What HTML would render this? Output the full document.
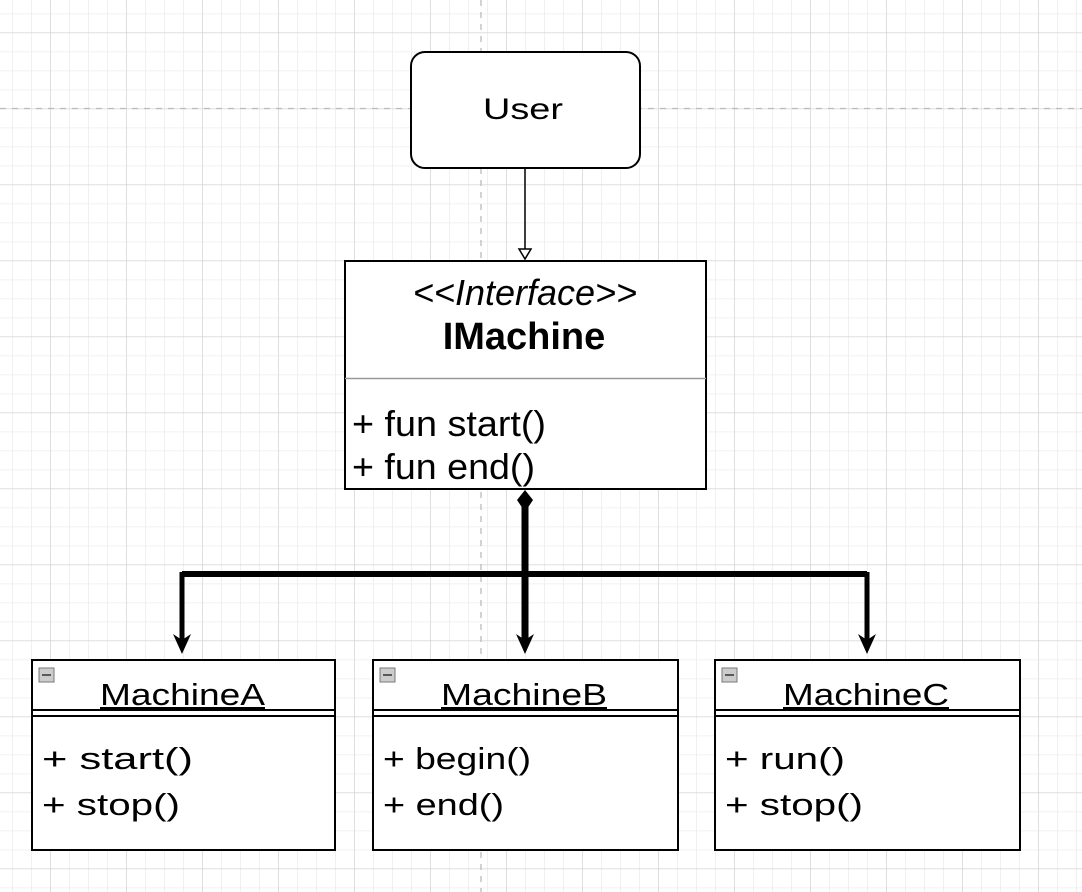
<!DOCTYPE html>
<html><head><meta charset="utf-8"><style>
html,body{margin:0;padding:0;background:#fff;}
svg{display:block;}
</style></head><body>
<svg width="1082" height="892" viewBox="0 0 1082 892" xmlns="http://www.w3.org/2000/svg">
<defs>
<pattern id="minor" x="12" y="13.5" width="19" height="19" patternUnits="userSpaceOnUse">
<path d="M0 0V19M0 0H19" stroke="#ececec" stroke-width="1.5" fill="none"/>
</pattern>
<pattern id="major" x="50" y="32.5" width="76" height="76" patternUnits="userSpaceOnUse">
<path d="M0 0V76M0 0H76" stroke="#cfcfcf" stroke-width="1.2" fill="none"/>
</pattern>
</defs>
<rect width="1082" height="892" fill="url(#minor)"/>
<rect width="1082" height="892" fill="url(#major)"/>
<line x1="0" y1="108.5" x2="1082" y2="108.5" stroke="#bbb" stroke-width="1.3" stroke-dasharray="6,6"/>
<line x1="481" y1="0" x2="481" y2="892" stroke="#bbb" stroke-width="1.3" stroke-dasharray="6,6"/>

<!-- User -->
<rect x="411" y="52" width="229" height="116" rx="14" fill="#fff" stroke="#000" stroke-width="2"/>
<text x="483" y="119" font-family="Liberation Sans, sans-serif" font-size="30" textLength="80" lengthAdjust="spacingAndGlyphs">User</text>
<line x1="525" y1="168" x2="525" y2="252" stroke="#000" stroke-width="1.5"/>
<path d="M519 249 L525 259 L531 249 Z" fill="#fff" stroke="#000" stroke-width="1.5"/>

<!-- IMachine -->
<rect x="345" y="261" width="361" height="228" fill="#fff" stroke="#000" stroke-width="2"/>
<text x="525" y="305" font-family="Liberation Sans, sans-serif" font-size="36" font-style="italic" text-anchor="middle">&lt;&lt;Interface&gt;&gt;</text>
<text x="524" y="349" font-family="Liberation Sans, sans-serif" font-size="38" font-weight="bold" text-anchor="middle">IMachine</text>
<line x1="345" y1="378.5" x2="706" y2="378.5" stroke="#999" stroke-width="1.5"/>
<text x="352" y="436" font-family="Liberation Sans, sans-serif" font-size="36" textLength="194" lengthAdjust="spacingAndGlyphs">+ fun start()</text>
<text x="352" y="479" font-family="Liberation Sans, sans-serif" font-size="36" textLength="183" lengthAdjust="spacingAndGlyphs">+ fun end()</text>

<!-- connectors -->
<path d="M525 490 L533 500 L525 512 L517 500 Z" fill="#000"/>
<line x1="525" y1="505" x2="525" y2="640" stroke="#000" stroke-width="7"/>
<line x1="182" y1="574" x2="867" y2="574" stroke="#000" stroke-width="6"/>
<line x1="182" y1="572" x2="182" y2="640" stroke="#000" stroke-width="5"/>
<line x1="867" y1="572" x2="867" y2="640" stroke="#000" stroke-width="5"/>
<path d="M173 634 L182 654 L191 634 L182 640 Z" fill="#000"/>
<path d="M516 634 L525 654 L534 634 L525 640 Z" fill="#000"/>
<path d="M858 634 L867 654 L876 634 L867 640 Z" fill="#000"/>

<!-- Machine boxes -->
<g font-family="Liberation Sans, sans-serif" font-size="31">
<rect x="32" y="660" width="303" height="190" fill="#fff" stroke="#000" stroke-width="2"/>
<line x1="32" y1="710" x2="335" y2="710" stroke="#000" stroke-width="2"/>
<line x1="32" y1="716" x2="335" y2="716" stroke="#000" stroke-width="2"/>
<rect x="39" y="668" width="15" height="14" fill="#ccc" stroke="#777"/>
<line x1="42" y1="675" x2="51" y2="675" stroke="#333" stroke-width="1.5"/>
<text x="100" y="705" textLength="165" lengthAdjust="spacingAndGlyphs" text-decoration="underline">MachineA</text>
<text x="42" y="769" textLength="151" lengthAdjust="spacingAndGlyphs">+ start()</text>
<text x="42" y="815" textLength="138" lengthAdjust="spacingAndGlyphs">+ stop()</text>

<rect x="373" y="660" width="305" height="190" fill="#fff" stroke="#000" stroke-width="2"/>
<line x1="373" y1="710" x2="678" y2="710" stroke="#000" stroke-width="2"/>
<line x1="373" y1="716" x2="678" y2="716" stroke="#000" stroke-width="2"/>
<rect x="380" y="668" width="15" height="14" fill="#ccc" stroke="#777"/>
<line x1="383" y1="675" x2="392" y2="675" stroke="#333" stroke-width="1.5"/>
<text x="441" y="705" textLength="166" lengthAdjust="spacingAndGlyphs" text-decoration="underline">MachineB</text>
<text x="383" y="769" textLength="148" lengthAdjust="spacingAndGlyphs">+ begin()</text>
<text x="383" y="815" textLength="121" lengthAdjust="spacingAndGlyphs">+ end()</text>

<rect x="715" y="660" width="305" height="190" fill="#fff" stroke="#000" stroke-width="2"/>
<line x1="715" y1="710" x2="1020" y2="710" stroke="#000" stroke-width="2"/>
<line x1="715" y1="716" x2="1020" y2="716" stroke="#000" stroke-width="2"/>
<rect x="722" y="668" width="15" height="14" fill="#ccc" stroke="#777"/>
<line x1="725" y1="675" x2="734" y2="675" stroke="#333" stroke-width="1.5"/>
<text x="783" y="705" textLength="166" lengthAdjust="spacingAndGlyphs" text-decoration="underline">MachineC</text>
<text x="725" y="769" textLength="120" lengthAdjust="spacingAndGlyphs">+ run()</text>
<text x="725" y="815" textLength="138" lengthAdjust="spacingAndGlyphs">+ stop()</text>
</g>
</svg>
</body></html>
